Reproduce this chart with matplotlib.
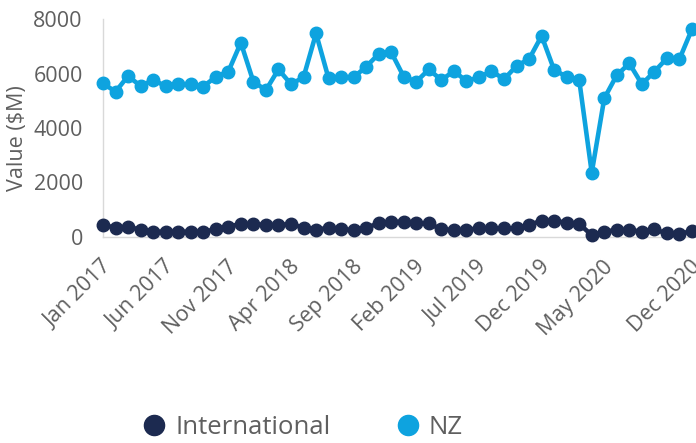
import matplotlib
matplotlib.use("Agg")
import matplotlib.pyplot as plt
from matplotlib.lines import Line2D
from matplotlib.transforms import ScaledTranslation
import numpy as np

plt.rcParams['font.family'] = ['Open Sans', 'DejaVu Sans']

months = ['Jan', 'Feb', 'Mar', 'Apr', 'May', 'Jun', 'Jul', 'Aug', 'Sep', 'Oct', 'Nov', 'Dec']
dates = [f"{m} {y}" for y in range(2017, 2021) for m in months]

nz = [5640, 5330, 5910, 5540, 5760, 5540, 5610, 5610, 5520, 5880, 6070, 7130,
      5700, 5390, 6150, 5610, 5860, 7470, 5820, 5880, 5860, 6250, 6720, 6780,
      5880, 5700, 6150, 5760, 6090, 5720, 5860, 6090, 5790, 6280, 6530, 7380,
      6130, 5880, 5760, 2360, 5090, 5940, 6370, 5610, 6070, 6560, 6530, 7630]

international = [440, 340, 380, 260, 195, 195, 195, 195, 195, 280, 380, 480,
                 480, 440, 440, 480, 340, 260, 340, 280, 260, 340, 500, 560,
                 560, 500, 500, 280, 260, 260, 320, 320, 320, 320, 440, 600,
                 600, 520, 480, 70, 195, 260, 260, 195, 280, 130, 100, 230]

tick_labels = ['Jan 2017', 'Jun 2017', 'Nov 2017', 'Apr 2018', 'Sep 2018', 'Feb 2019',
               'Jul 2019', 'Dec 2019', 'May 2020', 'Dec 2020']

c_nz = '#0EA3DF'
c_int = '#1C2A50'
gray = '#5F5F5F'

fig = plt.figure(figsize=(6.96, 4.43), dpi=100)
ax = fig.add_axes([103/696, 1-237/443, (692-103)/696, (237-19)/443])

x = np.arange(len(dates))
ax.plot(x, international, color=c_int, lw=3.3, marker='o', ms=9, clip_on=False, zorder=3)
ax.plot(x, nz, color=c_nz, lw=3.3, marker='o', ms=9, clip_on=False, zorder=3)

ax.set_xlim(0, len(dates) - 1)
ax.set_ylim(0, 8000)
ax.set_yticks([0, 2000, 4000, 6000, 8000])
ticks = [dates.index(t) for t in tick_labels]
ax.set_xticks(ticks)
ax.set_xticklabels(tick_labels, rotation=45, ha='right', rotation_mode='anchor')
ax.tick_params(axis='both', length=0, labelsize=15.5, colors=gray)
ax.tick_params(axis='y', pad=14.5)
ax.tick_params(axis='x', pad=14)
off = ScaledTranslation(-2/100, 0, fig.dpi_scale_trans)
for lab in ax.get_xticklabels():
    lab.set_transform(lab.get_transform() + off)
fig.text(17.5/696, 1-138/443, 'Value ($M)', rotation=90, ha='center', va='center',
         fontsize=15.5, color=gray)

for s in ['top', 'right']:
    ax.spines[s].set_visible(False)
for s in ['left', 'bottom']:
    ax.spines[s].set_color('#D9D9D9')
    ax.spines[s].set_linewidth(1)

handles = [Line2D([], [], ls='none', marker='o', ms=14.5, color=c_int),
           Line2D([], [], ls='none', marker='o', ms=14.5, color=c_nz)]
fig.legend(handles, ['International', 'NZ'], ncol=2, frameon=False,
           loc='center', bbox_to_anchor=(302/696, 1-427/443),
           fontsize=18.5, labelcolor=gray, handlelength=1.0, handletextpad=0.32,
           columnspacing=2.5)

fig.savefig('out.png', dpi=100)
